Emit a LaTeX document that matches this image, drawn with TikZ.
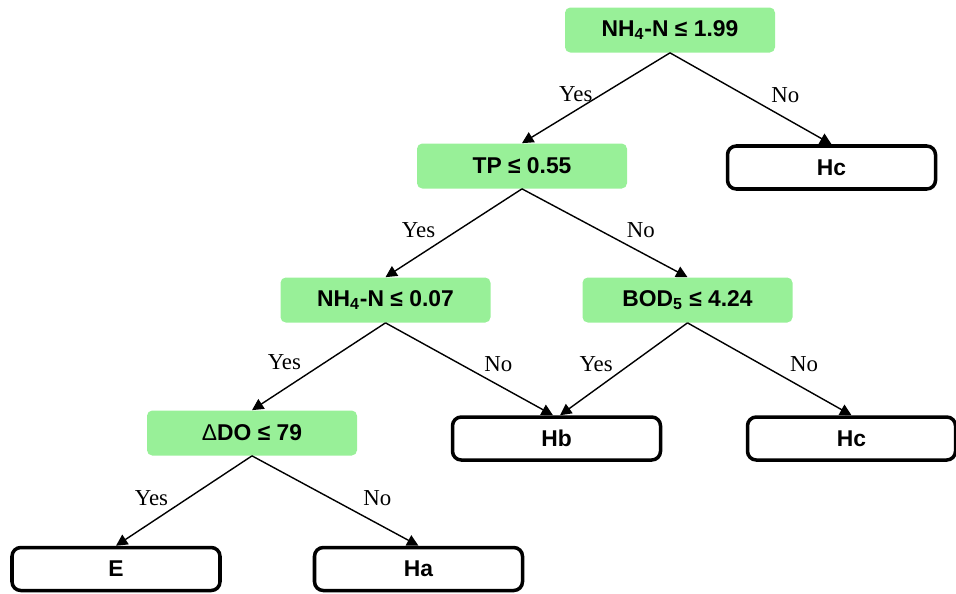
\documentclass[tikz,border=0pt]{standalone}
\usepackage{fontspec}
\setmainfont{Liberation Serif}
\setsansfont{Liberation Sans}
\usepackage{tikz}
\usetikzlibrary{arrows.meta,positioning}
\definecolor{splitgreen}{RGB}{152,240,152}

\begin{document}
\begin{tikzpicture}[
        split/.style={rectangle, fill=splitgreen, rounded corners=3pt, minimum width=4.2cm, minimum height=0.9cm, align=center, font=\sffamily\bfseries\fontsize{13}{15}\selectfont},
        leaf/.style={rectangle, draw=black, line width=2pt, fill=white, rounded corners=5pt, minimum width=4.16cm, minimum height=0.86cm, align=center, font=\sffamily\bfseries\fontsize{13}{15}\selectfont},
        arrow/.style={-{Triangle[length=6.5pt,width=6.5pt]}, line width=0.8pt},
        lbl/.style={inner sep=0pt, font=\fontsize{13}{15}\selectfont}
    ]
    \useasboundingbox (0,0) rectangle (19.12,-11.86);

    % Splits
    \node[split] (root) at (13.40,-0.60) {NH\textsubscript{4}-N ≤ 1.99};
    \node[split] (tp) at (10.44,-3.32) {TP ≤ 0.55};
    \node[split] (nhlow) at (7.71,-6.00) {NH\textsubscript{4}-N ≤ 0.07};
    \node[split] (bod) at (13.75,-6.00) {BOD\textsubscript{5} ≤ 4.24};
    \node[split] (ddo) at (5.04,-8.66) {{\mdseries Δ}DO ≤ 79};

    % Leaves
    \node[leaf] (hctop) at (16.63,-3.35) {Hc};
    \node[leaf] (hb) at (11.13,-8.77) {Hb};
    \node[leaf] (hclow) at (17.03,-8.77) {Hc};
    \node[leaf] (e) at (2.32,-11.38) {E};
    \node[leaf] (ha) at (8.37,-11.38) {Ha};

    % Arrows
    \draw[arrow] (root.south) -- node[lbl, pos=.46, left=5pt] {Yes} (tp.north);
    \draw[arrow] (root.south) -- node[lbl, pos=.46, right=15pt] {No} (hctop.north);
    \draw[arrow] (tp.south) -- node[lbl, pos=.47, left=12.5pt] {Yes} (nhlow.north);
    \draw[arrow] (tp.south) -- node[lbl, pos=.47, right=15pt] {No} (bod.north);
    \draw[arrow] (nhlow.south) -- node[lbl, pos=.45, left=13.5pt] {Yes} (ddo.north);
    \draw[arrow] (nhlow.south) -- node[lbl, pos=.45, right=13pt] {No} ([xshift=-2pt]hb.north);
    \draw[arrow] (bod.south) -- node[lbl, pos=.45, left=9.5pt] {Yes} ([xshift=2pt]hb.north);
    \draw[arrow] (bod.south) -- node[lbl, pos=.45, right=16pt] {No} (hclow.north);
    \draw[arrow] (ddo.south) -- node[lbl, pos=.47, left=11pt] {Yes} (e.north);
    \draw[arrow] (ddo.south) -- node[lbl, pos=.47, right=18.5pt] {No} (ha.north);

\end{tikzpicture}
\end{document}
